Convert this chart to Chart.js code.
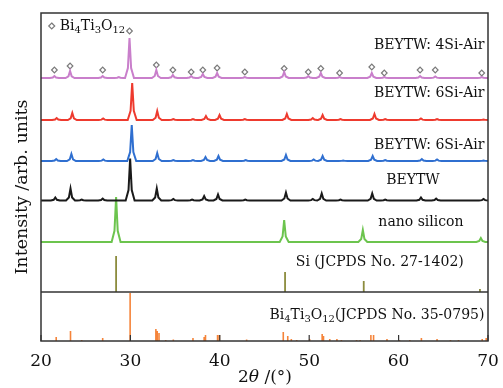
<!DOCTYPE html>
<html><head><meta charset="utf-8">
<script src="https://cdn.jsdelivr.net/npm/chart.js@4.4.1/dist/chart.umd.min.js"></script>
<style>html,body{margin:0;padding:0;background:#fff}#wrap{width:503px;height:388px}</style>
</head><body><div id="wrap"><canvas id="c" width="503" height="388"></canvas></div>
<script>
// ---- data (2θ positions, relative intensities in plot units) ----
const xTicks = [20, 30, 40, 50, 60, 70];
const bt4Pos = [21.5,23.25,26.9,28.7,29.9,32.9,34.75,36.8,38.1,39.7,42.8,47.2,49.9,51.3,53.4,57.0,58.4,62.4,64.1,69.3];
const bt4Int = [2,7,2,1,40,8,3,2,4,5,1,6,2,5,1,5,1,2,1.5,1];
const bt6rPos = [21.75,23.5,26.95,30.2,33.0,34.8,37.0,38.45,39.97,42.8,47.5,50.4,51.5,53.5,57.3,58.5,62.5,64.3,69.5];
const bt6rInt = [2,7,1.5,37,9,1,1,4,5,1,6,2,5,1,6,1,1.5,1,0.5];
const bt6bPos = [21.7,23.4,26.97,30.15,33.0,34.8,37.0,38.4,39.85,42.9,47.4,50.5,51.5,53.8,57.1,58.5,62.6,64.3,69.5];
const bt6bInt = [2,7,1.5,36,8,1,1,4,5,1,6,1.5,5,0.5,5,1,2,1.5,0.5];
const beytwPos = [21.6,23.3,24.55,26.9,29.97,32.95,34.8,36.9,38.25,39.8,42.85,47.4,50.4,51.4,53.5,57.05,58.5,62.5,64.2,69.5];
const beytwInt = [3,12,1,2,42,12,1.5,1,4.5,6,1,8,1.5,7,1,7,1,3,2,1.5];
const nanoSiPos = [28.4,47.2,56.0,69.2];
const nanoSiInt = [45,22,12,4];
const siRefPos = [28.4,47.3,56.1,69.1];
const siRefInt = [36,20,11,3];
const btoRefPos = [21.7,23.3,24.55,26.9,29.97,32.85,33.0,33.2,33.95,34.8,37.0,38.25,38.4,39.75,39.95,43.0,47.1,47.6,48.0,48.6,50.05,51.45,51.6,52.3,53.1,53.6,55.3,55.7,56.9,57.2,58.7,60.1,61.25,62.55,64.3,65.8,66.7,69.35,69.8];
const btoRefInt = [4,10,1,3,48,12,10,8,1,1.5,3,4,6,6,6,1.5,9,5,2,1,2,7,5,2,2,1,1,1,6,6,2,1,1,3,2,1,1,2,3];
const markPos = [21.5,23.25,26.9,29.9,32.9,34.75,36.8,38.1,39.7,42.8,47.2,49.9,51.3,53.4,57.0,58.4,62.4,64.1,69.3];
const markInt = [8,12,8,47,13,8,6,8,10,6,9.5,6,9.5,5,11,5,8,8,5];

// ---- layout (vertical offsets of each trace, plot units) ----
const OFF = {bt4:263, bt6r:221, bt6b:180, beytw:140.5, nano:99, si:49, bto:0};

function pattern(pos, inten, base){
  const pts = [{x:20, y:base}];
  const dx = [-0.5,-0.18,0,0.18,0.5], fr = [0,0.25,1,0.25,0];
  pos.forEach((p,i)=>{ dx.forEach((d,k)=>pts.push({x:p+d, y:base+inten[i]*fr[k]})); });
  pts.push({x:70, y:base});
  return pts;
}
function sticks(pos, inten, base){
  const pts = [];
  pos.forEach((p,i)=>{ pts.push({x:p,y:base},{x:p,y:base+inten[i]},{x:p,y:null}); });
  return pts;
}
const lineDs = (data,color,w)=>({data, borderColor:color, borderWidth:w, pointRadius:0, tension:0, spanGaps:false, fill:false});

const datasets = [
  lineDs(pattern(bt4Pos,bt4Int,OFF.bt4),'#c97fcb',2),
  lineDs(pattern(bt6rPos,bt6rInt,OFF.bt6r),'#ee3a2e',2),
  lineDs(pattern(bt6bPos,bt6bInt,OFF.bt6b),'#2f6fd0',2),
  lineDs(pattern(beytwPos,beytwInt,OFF.beytw),'#1a1a1a',2),
  lineDs(pattern(nanoSiPos,nanoSiInt,OFF.nano),'#6cc44e',2),
  lineDs(sticks(siRefPos,siRefInt,OFF.si),'#8c8c3e',1.8),
  lineDs(sticks(btoRefPos,btoRefInt,OFF.bto),'#f5843a',1.6),
  {data: markPos.map((p,i)=>({x:p, y:OFF.bt4+markInt[i]})), showLine:false, pointStyle:'rectRot',
   pointRadius:2.8, pointBorderColor:'#7a7a7a', pointBackgroundColor:'#fff', pointBorderWidth:1.2, borderColor:'#7a7a7a'}
];

const SERIF = '"DejaVu Serif", "Liberation Serif", serif';
function drawSub(ctx, parts, x, y, size){
  let cx = x;
  parts.forEach(([t,sub])=>{
    ctx.font = (sub? Math.round(size*0.68): size) + 'px ' + SERIF;
    ctx.fillText(t, cx, y + (sub? size*0.3:0));
    cx += ctx.measureText(t).width;
  });
  return cx;
}
function widthSub(ctx, parts, size){
  let w=0; parts.forEach(([t,sub])=>{ctx.font=(sub?Math.round(size*0.68):size)+'px '+SERIF; w+=ctx.measureText(t).width;}); return w;
}

const deco = {
  id:'deco',
  afterDraw(chart){
    const {ctx, chartArea:a, scales:{x,y}} = chart;
    ctx.save();
    ctx.strokeStyle = '#333'; ctx.lineWidth = 1.5;
    ctx.strokeRect(a.left, a.top, a.right-a.left, a.bottom-a.top);
    const ys = y.getPixelForValue(OFF.si);
    ctx.beginPath(); ctx.moveTo(a.left, ys); ctx.lineTo(a.right, ys); ctx.stroke();
    ctx.lineWidth = 1.2;
    xTicks.forEach(t=>{ const px = x.getPixelForValue(t); ctx.beginPath(); ctx.moveTo(px,a.bottom); ctx.lineTo(px,a.bottom-6); ctx.stroke(); });
    ctx.fillStyle = '#111'; ctx.textBaseline = 'middle';
    const fs = 14;
    ctx.font = fs+'px '+SERIF; ctx.textAlign = 'right';
    ctx.fillText('BEYTW: 4Si-Air', x.getPixelForValue(69.6), y.getPixelForValue(296));
    ctx.fillText('BEYTW: 6Si-Air', x.getPixelForValue(69.6), y.getPixelForValue(248));
    ctx.fillText('BEYTW: 6Si-Air', x.getPixelForValue(69.6), y.getPixelForValue(196));
    ctx.textAlign = 'center';
    ctx.fillText('BEYTW', x.getPixelForValue(61.6), y.getPixelForValue(161));
    ctx.fillText('nano silicon', x.getPixelForValue(62.5), y.getPixelForValue(119));
    ctx.fillText('Si (JCPDS No. 27-1402)', x.getPixelForValue(57.9), y.getPixelForValue(79));
    ctx.textAlign = 'left';
    const btoParts = [['Bi',0],['4',1],['Ti',0],['3',1],['O',0],['12',1],['(JCPDS No. 35-0795)',0]];
    const w = widthSub(ctx, btoParts, fs);
    drawSub(ctx, btoParts, x.getPixelForValue(69.6)-w, y.getPixelForValue(26), fs);
    const lx = x.getPixelForValue(21.2), ly = y.getPixelForValue(315);
    ctx.strokeStyle = '#7a7a7a'; ctx.lineWidth = 1.2; ctx.fillStyle = '#fff';
    ctx.beginPath(); ctx.moveTo(lx, ly-3); ctx.lineTo(lx+3, ly); ctx.lineTo(lx, ly+3); ctx.lineTo(lx-3, ly); ctx.closePath(); ctx.fill(); ctx.stroke();
    ctx.fillStyle = '#111';
    drawSub(ctx, [['Bi',0],['4',1],['Ti',0],['3',1],['O',0],['12',1]], lx+8, ly, fs);
    ctx.font = '17.5px '+SERIF; ctx.textAlign='center';
    ctx.save(); ctx.translate(22, 187); ctx.rotate(-Math.PI/2);
    ctx.fillText('Intensity /arb. units', 0, 0); ctx.restore();
    const tParts = [['2','17px '+SERIF],['θ','italic 17px '+SERIF],[' /(°)','17px '+SERIF]];
    let tw=0; tParts.forEach(([t,f])=>{ctx.font=f; tw+=ctx.measureText(t).width;});
    let cx = 265 - tw/2; ctx.textAlign='left';
    tParts.forEach(([t,f])=>{ctx.font=f; ctx.fillText(t,cx,378); cx+=ctx.measureText(t).width;});
    ctx.restore();
  }
};

new Chart(document.getElementById('c'), {
  type:'line',
  data:{datasets},
  options:{
    responsive:false, animation:false,
    layout:{padding:{left:41, right:15, top:13, bottom:0}},
    plugins:{legend:{display:false}, tooltip:{enabled:false}},
    scales:{
      x:{type:'linear', min:20, max:70, grid:{display:false}, border:{display:false},
         afterBuildTicks:(s)=>{ s.ticks = xTicks.map(v=>({value:v})); },
         afterFit:(s)=>{ s.height = 47; },
         ticks:{color:'#111', padding:2, maxRotation:0, font:{family:SERIF, size:17}}},
      y:{type:'linear', min:0, max:328, display:false}
    }
  },
  plugins:[deco]
});
</script></body></html>
